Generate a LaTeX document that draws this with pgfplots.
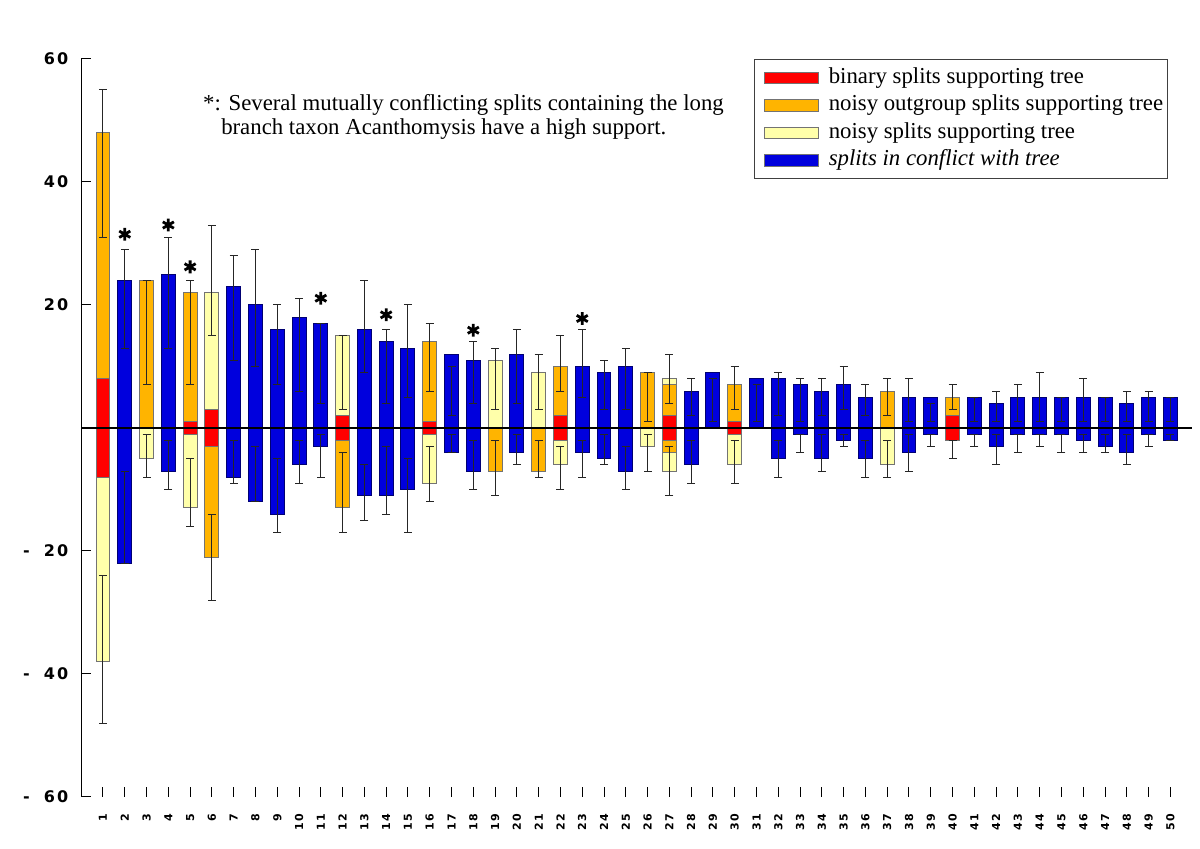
\documentclass[border=0pt]{standalone}
\usepackage{pgfplots}
\pgfplotsset{compat=1.18}
\usepackage{fontspec}
\setmainfont{Liberation Serif}
\newfontfamily\tickfont[LetterSpace=13]{DejaVu Sans}

\definecolor{bRed}{HTML}{FF0000}
\definecolor{bOrange}{HTML}{FFB400}
\definecolor{bYellow}{HTML}{FFFFAA}
\definecolor{bBlue}{HTML}{0000DD}

% error intervals: centre y, half length e
\pgfplotstableread{
x y e
1 43 12
1 -36 12
2 21 8
2 -14.5 7.5
3 15.5 8.5
3 -4.5 3.5
4 22 9
4 -6 4
5 15.5 8.5
5 -10.5 5.5
6 24 9
6 -21 7
7 19.5 8.5
7 -5.5 3.5
8 19.5 9.5
8 -7.5 4.5
9 13.5 6.5
9 -11 6
10 13.5 7.5
10 -5.5 3.5
11 10.5 6.5
11 -4.5 3.5
12 9 6
12 -10.5 6.5
13 16.5 7.5
13 -10.5 4.5
14 10 6
14 -8.5 5.5
15 12.5 7.5
15 -11 6
16 11.5 5.5
16 -7.5 4.5
17 6 4
17 -2.5 1.5
18 9 5
18 -6 4
19 8 5
19 -6.5 4.5
20 10 6
20 -3.5 2.5
21 7.5 4.5
21 -5 3
22 10.5 4.5
22 -6.5 3.5
23 10.5 5.5
23 -5 3
24 7 4
24 -3.5 2.5
25 8 5
25 -6.5 3.5
26 5 4
26 -4 3
27 8 4
27 -7 4
28 5 3
28 -5.5 3.5
29 4.5 3.5
30 6.5 3.5
30 -5.5 3.5
31 4 3
32 5.5 3.5
32 -5 3
33 4.5 3.5
33 -2.5 1.5
34 5 3
34 -4 3
35 6.5 3.5
35 -2 1
36 4.5 2.5
36 -5 3
37 5 3
37 -5 3
38 4.5 3.5
38 -4 3
39 2.5 1.5
39 -2 1
40 5 2
40 -3.5 1.5
41 3 2
41 -2 1
42 3.5 2.5
42 -3.5 2.5
43 4 3
43 -2.5 1.5
44 5 4
44 -2 1
45 3 2
45 -2.5 1.5
46 4.5 3.5
46 -2.5 1.5
47 3 2
47 -2.5 1.5
48 3.5 2.5
48 -3.5 2.5
49 3.5 2.5
49 -2 1
50 3 2
50 -1.5 0.5
}\errtab

\begin{document}
\begin{tikzpicture}
\begin{axis}[
  scale only axis, width=555.5pt, height=369pt,
  xmin=0, xmax=51, ymin=-60, ymax=60,
  axis lines*=left, x axis line style={draw=none},
  tick align=inside, major tick length=5pt,
  tick style={black, line width=0.5pt},
  axis line style={line width=0.5pt},
  clip=false,
  xtick={1,...,50},
  ytick={-60,-40,-20,20,40,60},
  yticklabels={-\kern7pt60,-\kern7pt40,-\kern7pt20,20,40,60},
  /pgf/number format/assume math mode=true,
  xticklabel style={rotate=90, anchor=east, xshift=-5pt,
    font=\tickfont\bfseries\fontsize{5.5}{6.5}\selectfont},
  yticklabel style={xshift=-3pt, font=\tickfont\bfseries\fontsize{8}{9}\selectfont},
  bar width=0.64,
  legend image code/.code={\path (0pt,0pt); \draw[#1, line width=0.5pt] (3.5pt,-2.9pt) rectangle (30.5pt,2.9pt);},
  legend style={at={(0.978,1.0)}, anchor=north east, draw=black!75, line width=0.6pt,
    font=\fontsize{11.4}{13}\selectfont, inner xsep=1pt, inner ysep=2.5pt,
    row sep=0.2pt, nodes={inner xsep=1pt, inner ysep=1.5pt, text height=8pt, text depth=2.5pt},
    /tikz/every odd column/.append style={column sep=4pt}},
  legend cell align=left,
]
\addlegendimage{fill=bRed, draw=black!55}
\addlegendentry{binary splits supporting tree}
\addlegendimage{fill=bOrange, draw=black!55}
\addlegendentry{noisy outgroup splits supporting tree}
\addlegendimage{fill=bYellow, draw=black!55}
\addlegendentry{noisy splits supporting tree}
\addlegendimage{fill=bBlue, draw=black!55}
\addlegendentry{\textit{splits in conflict with tree}}

% noisy splits (drawn first, outermost)
\addplot[ybar, forget plot, fill=bYellow, draw=black!55, line width=0.5pt] coordinates {
 (1,-38) (3,-5) (5,-13) (6,22) (12,15) (16,-9) (19,11) (21,9) (22,-6)
 (26,-3) (27,8) (27,-7) (30,-6) (37,-6)};
% noisy outgroup splits
\addplot[ybar, forget plot, fill=bOrange, draw=black!55, line width=0.5pt] coordinates {
 (1,48) (3,24) (5,22) (6,-21) (12,-13) (16,14) (19,-7) (21,-7) (22,10)
 (26,9) (27,7) (27,-4) (30,7) (37,6) (40,5)};
% binary splits
\addplot[ybar, forget plot, fill=bRed, draw=black!55, line width=0.5pt] coordinates {
 (1,8) (1,-8) (5,1) (5,-1) (6,3) (6,-3) (12,2) (12,-2) (16,1) (16,-1)
 (22,2) (22,-2) (27,2) (27,-2) (30,1) (30,-1) (40,2) (40,-2)};
% conflicting splits
\addplot[ybar, forget plot, fill=bBlue, draw=blue!45!black, line width=0.5pt] coordinates {
 (2,24) (2,-22) (4,25) (4,-7) (7,23) (7,-8) (8,20) (8,-12) (9,16) (9,-14)
 (10,18) (10,-6) (11,17) (11,-3) (13,16) (13,-11) (14,14) (14,-11)
 (15,13) (15,-10) (17,12) (17,-4) (18,11) (18,-7) (20,12) (20,-4)
 (23,10) (23,-4) (24,9) (24,-5) (25,10) (25,-7) (28,6) (28,-6) (29,9)
 (31,8) (32,8) (32,-5) (33,7) (33,-1) (34,6) (34,-5) (35,7) (35,-2)
 (36,5) (36,-5) (38,5) (38,-4) (39,5) (39,-1) (41,5) (41,-1) (42,4) (42,-3)
 (43,5) (43,-1) (44,5) (44,-1) (45,5) (45,-1) (46,5) (46,-2) (47,5) (47,-3)
 (48,4) (48,-4) (49,5) (49,-1) (50,5) (50,-2)};

% zero line
\draw[black, line width=0.7pt] (axis cs:0,0) -- (axis cs:51,0);

\addplot[forget plot, draw=none, mark=none,
  error bars/.cd, y dir=both, y explicit,
  error bar style={draw=black!85, line width=0.5pt},
  error mark options={rotate=90, draw=black!85, mark size=2pt, line width=0.5pt}]
  table[x=x, y=y, y error=e] {\errtab};

% long-branch markers
\addplot[forget plot, only marks, mark=asterisk, mark size=3.2pt,
  mark options={black, line width=1.4pt}] coordinates {
 (2,31.5) (4,33) (5,26.2) (11,21.1) (14,18.4) (18,15.9) (23,17.8)};

\node[anchor=north west, align=left, inner sep=0pt,
  font=\fontsize{11.4}{12.2}\selectfont] at (rel axis cs:0.1095,0.953)
  {*: Several mutually conflicting splits containing the long\\
   \hspace*{9pt}branch taxon Acanthomysis have a high support.};
\end{axis}
\pgfresetboundingbox
\path[use as bounding box] (-40.6pt,-26pt) rectangle (559.4pt,398.5pt);
\end{tikzpicture}
\end{document}
